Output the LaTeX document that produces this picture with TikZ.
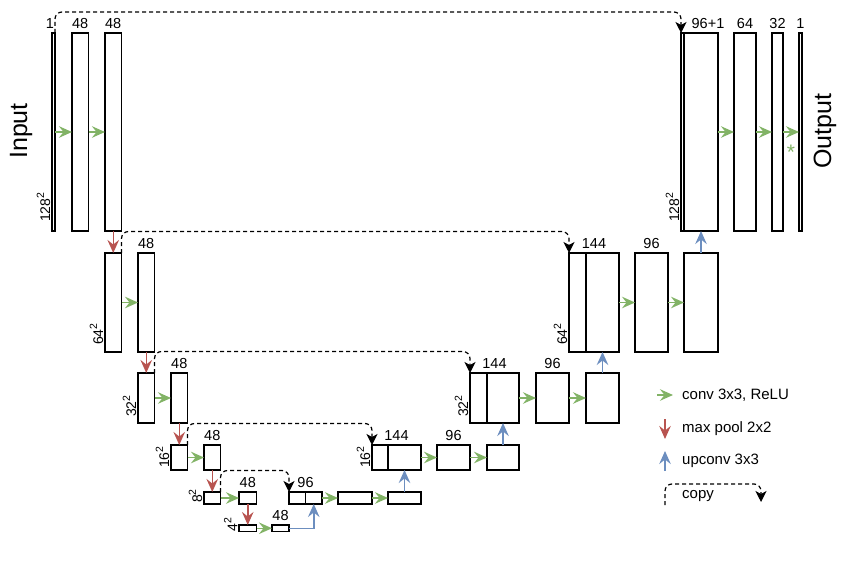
\documentclass[tikz,border=0pt]{standalone}
\usepackage{fontspec}
\setmainfont{Liberation Sans}
\usetikzlibrary{positioning,calc,arrows.meta}
\definecolor{convgreen}{RGB}{130,179,102}
\definecolor{poolred}{RGB}{184,84,80}
\definecolor{upblue}{RGB}{108,142,191}
\newcommand{\sqr}{\raisebox{6bp}{\fontsize{10.5bp}{12bp}\selectfont 2}}

\begin{document}
\begin{tikzpicture}[x=1bp,y=-1bp,
  fmap/.style 2 args={draw, line width=1.2bp, anchor=north west, inner sep=0pt, outer sep=0pt,
    minimum width=#1bp, minimum height=#2bp},
  chan/.style={font=\fontsize{14.5bp}{17bp}\selectfont, inner sep=0pt},
  dimlbl/.style={font=\fontsize{14bp}{17bp}\selectfont, inner sep=0pt, rotate=90, anchor=south west},
  bigtext/.style={font=\fontsize{25bp}{30bp}\selectfont, inner sep=0pt, rotate=90},
  lgtext/.style={font=\fontsize{15bp}{18bp}\selectfont, inner sep=0pt, anchor=west},
  convarrow/.style={draw=convgreen, line width=1.5bp, -{Stealth[length=13bp,width=11.5bp,inset=4.5bp]}},
  poolarrow/.style={draw=poolred, line width=1.5bp, -{Stealth[length=13bp,width=11.5bp,inset=4.5bp]}},
  uparrow/.style={draw=upblue, line width=1.5bp, -{Stealth[length=13bp,width=11.5bp,inset=4.5bp]}},
  copyarrow/.style={draw=black, line width=1.2bp, dash pattern=on 4bp off 3bp, rounded corners=7bp,
    -{Stealth[length=11bp,width=11bp,inset=3bp]}}
]
\useasboundingbox (0,0) rectangle (850,569);

% level 1 - 128^2
\node[fmap={3}{198}] (inp) at (52,33) {};
\node[fmap={16.5}{198}] (a1) at (72,33) {};
\node[fmap={16.5}{198}] (a2) at (105,33) {};
\node[fmap={3}{198}] (c1a) at (681,33) {};
\node[fmap={34}{198}] (c1b) at (684,33) {};
\node[fmap={22}{198}] (r1b) at (734,33) {};
\node[fmap={11}{198}] (r1c) at (772,33) {};
\node[fmap={3}{198}] (outp) at (799,33) {};

% level 2 - 64^2
\node[fmap={16.5}{99}] (b1) at (105,253) {};
\node[fmap={16.5}{99}] (b2) at (138,253) {};
\node[fmap={17}{99}] (c2a) at (569,253) {};
\node[fmap={33}{99}] (c2b) at (586,253) {};
\node[fmap={33}{99}] (d2a) at (635,253) {};
\node[fmap={34}{99}] (d2b) at (684,253) {};

% level 3 - 32^2
\node[fmap={16.5}{50}] (g1) at (138,373) {};
\node[fmap={16.5}{50}] (g2) at (171,373) {};
\node[fmap={17}{50}] (c3a) at (470,373) {};
\node[fmap={32}{50}] (c3b) at (487,373) {};
\node[fmap={33}{50}] (e3a) at (536,373) {};
\node[fmap={33}{50}] (e3b) at (586,373) {};

% level 4 - 16^2
\node[fmap={16.5}{25}] (h1) at (171,445) {};
\node[fmap={16.5}{25}] (h2) at (204,445) {};
\node[fmap={16}{25}] (c4a) at (372,445) {};
\node[fmap={33}{25}] (c4b) at (388,445) {};
\node[fmap={33}{25}] (e4a) at (437,445) {};
\node[fmap={32}{25}] (e4b) at (487,445) {};

% level 5 - 8^2
\node[fmap={16.5}{12}] (k1) at (204,492) {};
\node[fmap={17.5}{12}] (k2) at (239,492) {};
\node[fmap={16.5}{12}] (c5a) at (289,492) {};
\node[fmap={16.5}{12}] (c5b) at (305.5,492) {};
\node[fmap={34}{12}] (e5a) at (338,492) {};
\node[fmap={33}{12}] (e5b) at (388,492) {};

% level 6 - 4^2
\node[fmap={17.5}{6.5}] (m1) at (239,525) {};
\node[fmap={17}{6.5}] (m2) at (272,525) {};

% channel counts
\node[chan, above=4.5bp of inp, xshift=-3.5bp] (linp) {1};
\node[chan, above=4.5bp of a1] (la1) {48};
\node[chan, above=4.5bp of a2] (la2) {48};
\node[chan, above=4.5bp of c1b, xshift=7bp] (lc1) {96+1};
\node[chan, above=4.5bp of r1b] (lr1b) {64};
\node[chan, above=4.5bp of r1c] (lr1c) {32};
\node[chan, above=4.5bp of outp] (loutp) {1};
\node[chan, above=4.5bp of b2] (lb2) {48};
\node[chan, above=4.5bp] (lc2) at ($(c2a.north west)!.5!(c2b.north east)$) {144};
\node[chan, above=4.5bp of d2a] (ld2a) {96};
\node[chan, above=4.5bp of g2] (lg2) {48};
\node[chan, above=4.5bp] (lc3) at ($(c3a.north west)!.5!(c3b.north east)$) {144};
\node[chan, above=4.5bp of e3a] (le3a) {96};
\node[chan, above=4.5bp of h2] (lh2) {48};
\node[chan, above=4.5bp] (lc4) at ($(c4a.north west)!.5!(c4b.north east)$) {144};
\node[chan, above=4.5bp of e4a] (le4a) {96};
\node[chan, above=4.5bp of k2] (lk2) {48};
\node[chan, above=4.5bp] (lc5) at ($(c5a.north west)!.5!(c5b.north east)$) {96};
\node[chan, above=4.5bp of m2] (lm2) {48};

% image sizes
\node[dimlbl] (s1l) at ($(inp.south west)+(-1.5,-9)$) {128\sqr};
\node[dimlbl] (s1r) at ($(c1a.south west)+(-1.5,-9)$) {128\sqr};
\node[dimlbl] (s2l) at ($(b1.south west)+(-1.5,-7)$) {64\sqr};
\node[dimlbl] (s2r) at ($(c2a.south west)+(-1.5,-7)$) {64\sqr};
\node[dimlbl] (s3l) at ($(g1.south west)+(-1.5,-6)$) {32\sqr};
\node[dimlbl] (s3r) at ($(c3a.south west)+(-1.5,-6)$) {32\sqr};
\node[dimlbl] (s4l) at ($(h1.south west)+(-1.5,-2)$) {16\sqr};
\node[dimlbl] (s4r) at ($(c4a.south west)+(-1.5,-2)$) {16\sqr};
\node[dimlbl] (s5l) at ($(k1.south west)+(-1.5,-1)$) {8\sqr};
\node[dimlbl] (s6l) at ($(m1.south west)+(-1.5,0)$) {4\sqr};

\node[bigtext] (inlbl) at (21,131) {Input};
\node[bigtext] (outlbl) at (825,131) {Output};

% conv 3x3
\foreach \a/\b in {inp/a1, a1/a2, c1b/r1b, r1b/r1c, r1c/outp,
                   b1/b2, c2b/d2a, d2a/d2b, g1/g2, c3b/e3a, e3a/e3b,
                   h1/h2, c4b/e4a, e4a/e4b, k1/k2, c5b/e5a, e5a/e5b, m1/m2}
  \draw[convarrow] (\a) -- (\b);
\node[chan, font=\fontsize{21bp}{24bp}\selectfont, text=convgreen, anchor=base] (star) at (791,159.5) {*};

% max pool
\foreach \a/\b in {a2/b1, b2/g1, g2/h1, h2/k1, k2/m1}
  \draw[poolarrow] (\a) -- (\b);

% upconv
\draw[uparrow] (m2.east) -| (c5b.south);
\foreach \a/\b in {e5b/c4b, e4b/c3b, e3b/c2b, d2b/c1b}
  \draw[uparrow] (\a) -- (\b);

% copy
\draw[copyarrow] (inp.north east) |- ([yshift=21bp]c1a.north west) -- (c1a.north west);
\foreach \a/\b in {b1/c2a, g1/c3a, h1/c4a, k1/c5a}
  \draw[copyarrow] (\a.north east) |- ([yshift=21.5bp]\b.north west) -- (\b.north west);

% legend
\coordinate (lgC1) at (657,395);
\coordinate (lgC2) at (673,395);
\coordinate (lgP1) at (665,419);
\coordinate (lgP2) at (665,439);
\coordinate (lgU1) at (665,471);
\coordinate (lgU2) at (665,451);
\coordinate (lgK1) at (665,505);
\coordinate (lgK2) at (761,502);
\draw[convarrow] (lgC1) -- (lgC2);
\draw[poolarrow] (lgP1) -- (lgP2);
\draw[uparrow] (lgU1) -- (lgU2);
\draw[copyarrow] (lgK1) |- ([yshift=18bp]lgK2) -- (lgK2);
\node[lgtext] (lgCt) at (682,395) {conv 3x3, ReLU};
\node[lgtext] (lgPt) at (682,429) {max pool 2x2};
\node[lgtext] (lgUt) at (682,461) {upconv 3x3};
\node[lgtext] (lgKt) at (682,496) {copy};
\end{tikzpicture}
\end{document}
